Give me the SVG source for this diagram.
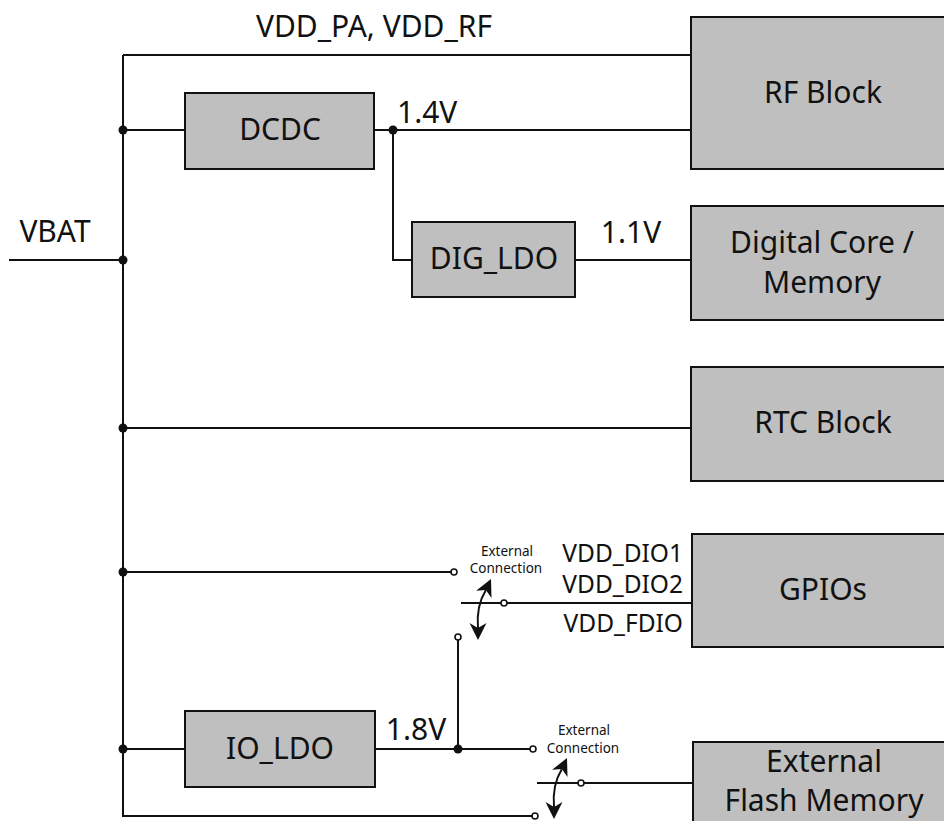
<svg xmlns="http://www.w3.org/2000/svg" width="944" height="821" viewBox="0 0 944 821">
<style>
.box{fill:#bfbfbf;stroke:#111;stroke-width:2}
.w{fill:none;stroke:#111;stroke-width:2}
.t{font-family:"Noto Sans","Open Sans",sans-serif;font-size:30px;fill:#111;text-anchor:middle}
.s{font-family:"Noto Sans","Open Sans",sans-serif;font-size:24.5px;fill:#111;text-anchor:end}
.x{font-family:"Noto Sans","Open Sans",sans-serif;font-size:13.5px;fill:#111;text-anchor:middle}
.dot{fill:#111}
.ah{fill:#111}
.oc{fill:#fff;stroke:#111;stroke-width:1.6}
</style>
<rect width="944" height="821" fill="#fff"/>
<g id="connectors">
<path class="w" d="M123 55 V816 H532"/>
<path class="w" d="M123 55 H691"/>
<path class="w" d="M9 260 H123"/>
<path class="w" d="M123 130 H185"/>
<path class="w" d="M374 130 H691"/>
<path class="w" d="M393 130 V260 H412"/>
<path class="w" d="M575 260 H691"/>
<path class="w" d="M123 428 H691"/>
<path class="w" d="M123 572 H451"/>
<path class="w" d="M461 603 H501"/>
<path class="w" d="M507 603 H692"/>
<path class="w" d="M458 640 V749"/>
<path class="w" d="M123 749 H185"/>
<path class="w" d="M375 749 H530"/>
<path class="w" d="M537 783 H578"/>
<path class="w" d="M584 783 H692"/>
<path class="w" d="M485.9 589.9 Q 476 606 478 628"/>
<polygon class="ah" points="491,579 491.5,598 485.9,589.9 476.1,590.8"/>
<polygon class="ah" points="478,640 469.5,623 478,628 486.5,623"/>
<path class="w" d="M561.9 768.9 Q 552 785 554 807"/>
<polygon class="ah" points="567,758 567.5,777 561.9,768.9 552.1,769.8"/>
<polygon class="ah" points="554,819 545.5,802 554,807 562.5,802"/>
<circle class="dot" cx="123" cy="130" r="4.5"/>
<circle class="dot" cx="123" cy="260" r="4.5"/>
<circle class="dot" cx="123" cy="428" r="4.5"/>
<circle class="dot" cx="123" cy="572" r="4.5"/>
<circle class="dot" cx="123" cy="749" r="4.5"/>
<circle class="dot" cx="393" cy="130" r="4.5"/>
<circle class="dot" cx="458" cy="749" r="4.5"/>
<circle class="oc" cx="454" cy="572" r="3"/>
<circle class="oc" cx="504" cy="603" r="3"/>
<circle class="oc" cx="458" cy="637" r="3"/>
<circle class="oc" cx="533" cy="749" r="3"/>
<circle class="oc" cx="581" cy="783" r="3"/>
<circle class="oc" cx="535" cy="816" r="3"/>
</g>
<g id="labels">
<text class="t" x="374" y="37">VDD_PA, VDD_RF</text>
<text class="t" x="55" y="242">VBAT</text>
<text class="t" x="397" y="123" style="text-anchor:start">1.4V</text>
<text class="t" x="631" y="243">1.1V</text>
<text class="t" x="416" y="740">1.8V</text>
<text class="s" x="683" y="562">VDD_DIO1</text>
<text class="s" x="683" y="593">VDD_DIO2</text>
<text class="s" x="683" y="632">VDD_FDIO</text>
<text class="x" x="507" y="556">External</text>
<text class="x" x="506" y="573">Connection</text>
<text class="x" x="584" y="735">External</text>
<text class="x" x="583" y="753">Connection</text>
</g>
<g id="dcdc"><rect class="box" x="185" y="93" width="189" height="76"/><text class="t" x="280" y="140">DCDC</text></g>
<g id="dig_ldo"><rect class="box" x="412" y="222" width="163" height="75"/><text class="t" x="494" y="269">DIG_LDO</text></g>
<g id="io_ldo"><rect class="box" x="185" y="711" width="190" height="76"/><text class="t" x="280" y="759">IO_LDO</text></g>
<g id="rf_block"><rect class="box" x="691" y="17" width="300" height="152"/><text class="t" x="823" y="103">RF Block</text></g>
<g id="digital_core"><rect class="box" x="691" y="206" width="300" height="114"/><text class="t" x="822" y="253">Digital Core /</text><text class="t" x="822" y="293">Memory</text></g>
<g id="rtc_block"><rect class="box" x="691" y="367" width="300" height="114"/><text class="t" x="823" y="433">RTC Block</text></g>
<g id="gpios"><rect class="box" x="692" y="534" width="300" height="113"/><text class="t" x="823" y="600">GPIOs</text></g>
<g id="ext_flash"><rect class="box" x="693" y="742" width="300" height="100"/><text class="t" x="824" y="772">External</text><text class="t" x="824" y="811">Flash Memory</text></g>
</svg>
